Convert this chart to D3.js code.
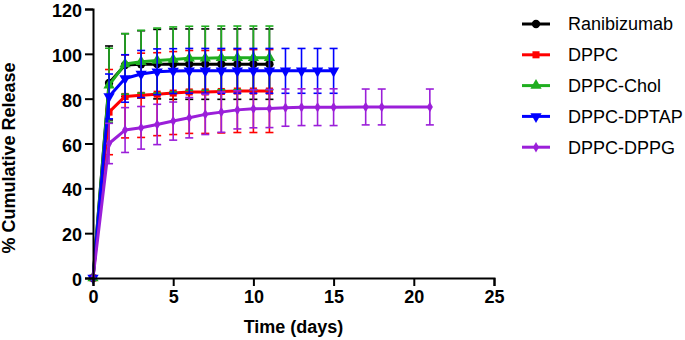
<!DOCTYPE html>
<html>
<head>
<meta charset="utf-8">
<script src="https://cdn.jsdelivr.net/npm/d3@7"></script>
<style>
  body { margin: 0; background: #fff; }
  text { font-family: "Liberation Sans", Arial, sans-serif; }
</style>
</head>
<body>
<div id="chart"></div>
<script>
// data
var seriesNames = ["Ranibizumab", "DPPC", "DPPC-Chol", "DPPC-DPTAP", "DPPC-DPPG"];
var seriesColors = ["#000000", "#ff0000", "#1fae1f", "#0000ff", "#9b1fd9"];

var daysShort = [0, 1, 2, 3, 4, 5, 6, 7, 8, 9, 10, 11];
var daysDptap = [0, 1, 2, 3, 4, 5, 6, 7, 8, 9, 10, 11, 12, 13, 14, 15];
var daysDppg = [0, 1, 2, 3, 4, 5, 6, 7, 8, 9, 10, 11, 12, 13, 14, 15, 17, 18, 21];

var ranibizumab = [0, 87, 95, 95.3, 95.4, 95.4, 95.4, 95.4, 95.4, 95.4, 95.4, 95.4];
var ranibizumabSd = [0, 16.5, 14, 15, 15.5, 15.7, 15.7, 15.7, 15.7, 15.7, 15.7, 15.7];

var dppc = [0, 74, 81, 81.5, 82, 82.5, 83, 83, 83.2, 83.4, 83.4, 83.4];
var dppcSd = [0, 19, 18.5, 18.8, 18.5, 18.5, 18.5, 18.5, 18.5, 18.5, 18.5, 18.5];

var dppcChol = [0, 86, 95.5, 96.5, 97, 97.5, 98, 98, 98.2, 98.2, 98.2, 98.2];
var dppcCholSd = [0, 16.5, 13.5, 14, 14.5, 14.5, 14.3, 14.3, 14.2, 14.2, 14.2, 14.2];

var dppcDptap = [0, 81, 89, 91, 92, 92.3, 92.4, 92.4, 92.4, 92.4, 92.4, 92.4, 92.4, 92.4, 92.4, 92.4];
var dppcDptapSd = [0, 10, 10.6, 10.5, 10.2, 10, 10, 10, 10, 10, 10, 10, 10, 10, 10, 10];

var dppcDppg = [0, 60, 66, 67, 68.5, 70, 71.5, 73, 74, 75, 75.5, 75.6, 76, 76.2, 76.2, 76.2, 76.3, 76.3, 76.3];
var dppcDppgSd = [0, 9, 10, 9.5, 9, 8.5, 9, 9, 9, 8.5, 8.5, 8.5, 8.3, 8.2, 8.2, 8.2, 8, 8, 8];

var xTicks = [0, 5, 10, 15, 20, 25];
var yTicks = [0, 20, 40, 60, 80, 100, 120];

var series = [
  {name: seriesNames[0], color: seriesColors[0], shape: "circle", days: daysShort, mean: ranibizumab, sd: ranibizumabSd},
  {name: seriesNames[1], color: seriesColors[1], shape: "square", days: daysShort, mean: dppc, sd: dppcSd},
  {name: seriesNames[2], color: seriesColors[2], shape: "triangle", days: daysShort, mean: dppcChol, sd: dppcCholSd},
  {name: seriesNames[3], color: seriesColors[3], shape: "down", days: daysDptap, mean: dppcDptap, sd: dppcDptapSd},
  {name: seriesNames[4], color: seriesColors[4], shape: "diamond", days: daysDppg, mean: dppcDppg, sd: dppcDppgSd}
];
series.forEach(function(s) {
  s.points = s.days.map(function(d, i) { return {day: d, value: s.mean[i], sd: s.sd[i]}; });
});

var W = 685, H = 340;
var margin = {top: 9, right: 191, bottom: 62, left: 93};
var width = W - margin.left - margin.right,
    height = H - margin.top - margin.bottom;

var svg = d3.select("#chart").append("svg")
    .attr("width", W)
    .attr("height", H);

var g = svg.append("g")
    .attr("transform", "translate(" + margin.left + "," + margin.top + ")");

var x = d3.scaleLinear().domain([0, 25]).range([0, width]);
var y = d3.scaleLinear().domain([0, 120]).range([height, 0]);

// marker shapes
function symbolPath(shape) {
  if (shape === "circle") return d3.symbol(d3.symbolCircle, 55)();
  if (shape === "square") return d3.symbol(d3.symbolSquare, 50)();
  if (shape === "triangle") return d3.symbol(d3.symbolTriangle, 55)();
  if (shape === "down") return d3.symbol(d3.symbolTriangle, 55)();
  return d3.symbol(d3.symbolDiamond, 32)();
}
function symbolRotate(shape) { return shape === "down" ? " rotate(180)" : ""; }

var line = d3.line()
    .x(function(d) { return x(d.day); })
    .y(function(d) { return y(d.value); });

var capW = 4;

series.forEach(function(s) {
  var sg = g.append("g");
  var eb = sg.append("g")
      .attr("stroke", s.color)
      .attr("stroke-width", 1.6)
      .selectAll("g")
      .data(s.points.filter(function(d) { return d.sd > 0; }))
      .enter().append("g");
  eb.append("line")
      .attr("x1", function(d) { return x(d.day); })
      .attr("x2", function(d) { return x(d.day); })
      .attr("y1", function(d) { return y(d.value - d.sd); })
      .attr("y2", function(d) { return y(d.value + d.sd); });
  eb.append("line")
      .attr("x1", function(d) { return x(d.day) - capW; })
      .attr("x2", function(d) { return x(d.day) + capW; })
      .attr("y1", function(d) { return y(d.value + d.sd); })
      .attr("y2", function(d) { return y(d.value + d.sd); });
  eb.append("line")
      .attr("x1", function(d) { return x(d.day) - capW; })
      .attr("x2", function(d) { return x(d.day) + capW; })
      .attr("y1", function(d) { return y(d.value - d.sd); })
      .attr("y2", function(d) { return y(d.value - d.sd); });

  sg.append("path")
      .datum(s.points)
      .attr("fill", "none")
      .attr("stroke", s.color)
      .attr("stroke-width", 3)
      .attr("stroke-linejoin", "round")
      .attr("d", line);

  sg.selectAll("path.pt")
      .data(s.points)
      .enter().append("path")
      .attr("class", "pt")
      .attr("fill", s.color)
      .attr("d", symbolPath(s.shape))
      .attr("transform", function(d) {
        return "translate(" + x(d.day) + "," + y(d.value) + ")" + symbolRotate(s.shape);
      });
});

// axes
var xAxis = g.append("g")
    .attr("transform", "translate(0," + height + ")")
    .call(d3.axisBottom(x).tickValues(xTicks).tickSizeOuter(0).tickSize(8).tickPadding(4));
var yAxis = g.append("g")
    .call(d3.axisLeft(y).tickValues(yTicks).tickSizeOuter(0).tickSize(8).tickPadding(3));

[xAxis, yAxis].forEach(function(a) {
  a.selectAll("path, line").attr("stroke", "#000").attr("stroke-width", 2);
  a.selectAll("text")
    .style("font-family", "'Liberation Sans', Arial, sans-serif")
    .style("font-size", "18px")
    .style("font-weight", "bold")
    .attr("fill", "#000");
});
yAxis.selectAll("text").attr("dy", "0.42em");

svg.append("text")
    .attr("x", margin.left + x(12.5))
    .attr("y", 333)
    .attr("text-anchor", "middle")
    .style("font-size", "18px")
    .style("font-weight", "bold")
    .text("Time (days)");

svg.append("text")
    .attr("transform", "translate(15,158) rotate(-90)")
    .attr("text-anchor", "middle")
    .style("font-size", "18px")
    .style("font-weight", "bold")
    .text("% Cumulative Release");

// legend
var legend = svg.append("g").attr("transform", "translate(522,24)");
var items = legend.selectAll("g")
    .data(series)
    .enter().append("g")
    .attr("transform", function(d, i) { return "translate(0," + (i * 30.8) + ")"; });
items.append("line")
    .attr("x1", 0).attr("x2", 28)
    .attr("stroke", function(d) { return d.color; })
    .attr("stroke-width", 3);
items.append("path")
    .attr("fill", function(d) { return d.color; })
    .attr("d", function(d) { return symbolPath(d.shape); })
    .attr("transform", function(d) { return "translate(14,0)" + symbolRotate(d.shape); });
items.append("text")
    .attr("x", 46)
    .attr("dy", "0.35em")
    .style("font-size", "18px")
    .text(function(d) { return d.name; });
</script>
</body>
</html>
